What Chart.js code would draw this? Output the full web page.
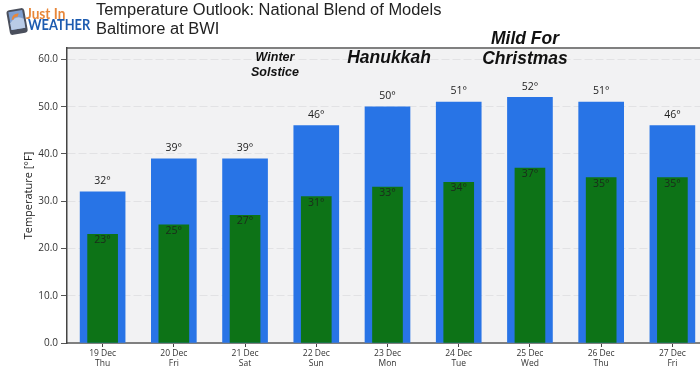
<!DOCTYPE html>
<html>
<head>
<meta charset="utf-8">
<script src="https://cdn.jsdelivr.net/npm/chart.js@4"></script>
<style>
  html, body { margin: 0; padding: 0; background: #fff; }
  #page { position: relative; width: 700px; height: 376px; overflow: hidden; }
  #wrap { position: absolute; left: 0; top: 0; width: 708px; height: 376px; }
  .title { position: absolute; left: 96px; font: 16.45px "Liberation Sans", Arial, sans-serif; color: #222; white-space: nowrap; }
  #logo { position: absolute; left: 5px; top: 7px; }
  .brand { position: absolute; font-family: Lato, "Liberation Sans", sans-serif; font-weight: bold; white-space: nowrap; transform-origin: left; }
</style>
</head>
<body>
<div id="page">
  <div id="wrap"><canvas id="tempChart" width="708" height="376"></canvas></div>
  <div class="title" style="top:0px">Temperature Outlook: National Blend of Models</div>
  <div class="title" style="top:19px">Baltimore at BWI</div>
  <svg id="logo" width="24" height="29" viewBox="0 0 24 29">
    <g transform="rotate(-10 12 14)">
      <rect x="3" y="2" width="18" height="25" rx="3" fill="#4a4f5c"/>
      <rect x="5" y="4" width="14" height="18" fill="#7f9fd0"/>
      <path d="M5 15 Q12 7 19 13 L19 22 L5 22 Z" fill="#b9cbe6"/>
      <path d="M7 12 A6 6 0 0 1 15 7 L13 10 A3 3 0 0 0 9 12 Z" fill="#e8873a"/>
    </g>
  </svg>
  <div class="brand" style="left:26px;top:4px;font-size:15px;color:#e8873a;transform:scaleX(.91)">Just In</div>
  <div class="brand" style="left:28px;top:15px;font-size:15.5px;color:#1c5bb0;transform:scaleX(.83)">WEATHER</div>
</div>
<script>
const dayLabels = [['19 Dec', 'Thu'], ['20 Dec', 'Fri'], ['21 Dec', 'Sat'], ['22 Dec', 'Sun'], ['23 Dec', 'Mon'], ['24 Dec', 'Tue'], ['25 Dec', 'Wed'], ['26 Dec', 'Thu'], ['27 Dec', 'Fri']];
const highs = [32, 39, 39, 46, 50, 51, 52, 51, 46];
const lows = [23, 25, 27, 31, 33, 34, 37, 35, 35];
const yTicks = [0, 10, 20, 30, 40, 50, 60];

const tickFont = '"Open Sans", "Noto Sans", sans-serif';

// grey panel behind the bars, dark line along its top
const panelBg = {
    id: 'panelBg',
    beforeDraw(chart) {
        const a = chart.chartArea, c = chart.ctx;
        c.save();
        c.fillStyle = '#f2f2f3';
        c.fillRect(a.left, a.top, a.width, a.height);
        c.fillStyle = '#808080';
        c.fillRect(a.left, a.top - 1, a.width, 2);
        c.restore();
    }
};

// degree labels and the hand written notes
const overlay = {
    id: 'overlay',
    afterDraw(chart) {
        const c = chart.ctx, xs = chart.scales.x, ys = chart.scales.y;
        c.save();
        c.textAlign = 'center';
        c.textBaseline = 'middle';
        c.font = '10.5px ' + tickFont;
        c.fillStyle = '#222';
        highs.forEach((v, i) => c.fillText(v + '°', xs.getPixelForValue(i), ys.getPixelForValue(v) - 10.5));
        c.fillStyle = '#1c2a1c';
        lows.forEach((v, i) => c.fillText(v + '°', xs.getPixelForValue(i), ys.getPixelForValue(v) + 6));

        c.fillStyle = '#111';
        c.font = 'italic bold 12.5px "Liberation Sans", Arial, sans-serif';
        c.fillText('Winter', 275, 58);
        c.fillText('Solstice', 275, 73);
        c.font = 'italic bold 17.5px "Liberation Sans", Arial, sans-serif';
        c.fillText('Hanukkah', 389, 58);
        c.fillText('Mild For', 525, 39);
        c.fillText('Christmas', 525, 59);
        c.restore();
    }
};

new Chart(document.getElementById('tempChart'), {
    type: 'bar',
    data: {
        labels: dayLabels,
        datasets: [
            { label: 'Low', data: lows, backgroundColor: '#0d7317', barThickness: 30, grouped: false, order: 1 },
            { label: 'High', data: highs, backgroundColor: '#2874e6', barThickness: 45, grouped: false, order: 2 }
        ]
    },
    options: {
        responsive: false,
        animation: false,
        layout: { padding: { top: 48, right: 0, bottom: 0, left: 22 } },
        plugins: { legend: { display: false }, tooltip: { enabled: false } },
        scales: {
            x: {
                afterFit(scale) { scale.height = 33; },
                grid: { offset: false, drawOnChartArea: false, tickColor: '#444', tickLength: 4 },
                border: { color: '#808080', width: 2 },
                ticks: { color: '#333', font: { family: tickFont, size: 8.5, lineHeight: 1.25 }, maxRotation: 0, autoSkip: false, padding: 1 }
            },
            y: {
                min: 0,
                max: 62.43,
                afterFit(scale) { scale.width = 45; },
                afterBuildTicks(scale) { scale.ticks = yTicks.map(v => ({ value: v })); },
                grid: { color: '#e2e2e4', tickColor: '#555', tickLength: 6, tickBorderDash: [] },
                border: { color: '#444', width: 1.5, dash: [8, 3] },
                title: { display: true, text: 'Temperature [°F]', color: '#222', font: { family: tickFont, size: 11 }, padding: 0 },
                ticks: { color: '#333', font: { family: tickFont, size: 10 }, padding: 3, callback: v => v.toFixed(1) }
            }
        }
    },
    plugins: [panelBg, overlay]
});
</script>
</body>
</html>
